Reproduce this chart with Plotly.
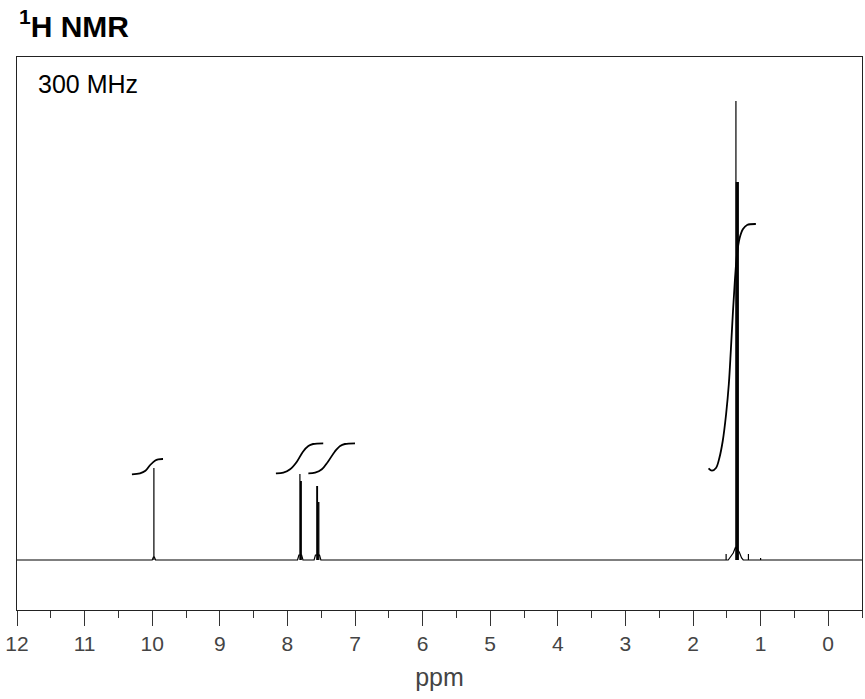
import plotly.graph_objects as go

# ---- data ----
title_text = "<b><sup>1</sup>H NMR</b>"
field_text = "300 MHz"
x_title = "ppm"

tick_vals = [12, 11, 10, 9, 8, 7, 6, 5, 4, 3, 2, 1, 0]

# baseline profile (ppm, intensity) including broad peak feet
base_ppm = [12.6, 10.00, 9.982, 9.968, 9.95,
            7.85, 7.83, 7.79, 7.77,
            7.605, 7.585, 7.525, 7.505,
            1.479, 1.405, 1.37, 1.316, 1.281, 1.257, -0.8]
base_int = [0, 0, 3, 3, 0,
            0, 5, 5, 0,
            0, 5, 5, 0,
            0, 7, 13, 8, 2, 0, 0]

# stick lines (ppm, intensity)
stick_ppm = [9.975,
             7.815, 7.805, 7.795,
             7.565, 7.555, 7.545, 7.535,
             1.51, 1.365, 1.36, 1.35, 1.34, 1.33, 1.18, 1.0]
stick_int = [92,
             86, 79, 79,
             74, 74, 58, 58,
             6, 459, 378, 378, 378, 378, 6, 2]

# integral curves (ppm, level)
int1_ppm = [10.30, 10.18, 10.10, 10.03, 9.96, 9.91, 9.84]
int1_lvl = [85.7, 86.7, 89.3, 95.0, 99.3, 100.7, 101.0]

int2_ppm = [8.17, 8.06, 7.96, 7.86, 7.77, 7.69, 7.62, 7.47]
int2_lvl = [86.7, 87.3, 90.7, 98.3, 108.3, 114.0, 116.0, 116.7]

int3_ppm = [7.69, 7.59, 7.49, 7.40, 7.30, 7.22, 7.15, 7.00]
int3_lvl = [86.7, 87.3, 90.7, 98.3, 108.3, 114.0, 116.0, 116.7]

int4_ppm = [1.77, 1.72, 1.66, 1.61, 1.56, 1.51, 1.47, 1.44, 1.41, 1.38, 1.35, 1.31, 1.26, 1.20, 1.07]
int4_lvl = [91.7, 89.3, 92.0, 102.0, 119.0, 146.0, 176.0, 210.0, 247.0, 280.0, 305.0, 322.0, 331.0, 335.0, 336.0]

# ---- figure ----
fig = go.Figure()

fig.add_trace(go.Scatter(x=base_ppm, y=base_int, mode="lines",
                         line=dict(color="#000000", width=1.2),
                         hoverinfo="skip", showlegend=False))

sx, sy = [], []
for p, h in zip(stick_ppm, stick_int):
    sx += [p, p, None]
    sy += [0, h, None]
fig.add_trace(go.Scatter(x=sx, y=sy, mode="lines",
                         line=dict(color="#000000", width=1.2),
                         hoverinfo="skip", showlegend=False))

for ip, il in [(int1_ppm, int1_lvl), (int2_ppm, int2_lvl),
               (int3_ppm, int3_lvl), (int4_ppm, int4_lvl)]:
    fig.add_trace(go.Scatter(x=ip, y=il, mode="lines",
                             line=dict(color="#000000", width=1.8, shape="spline", smoothing=1.0),
                             hoverinfo="skip", showlegend=False))

fig.update_layout(
    width=865, height=699,
    margin=dict(l=17, r=3, t=57, b=89),
    paper_bgcolor="white", plot_bgcolor="white",
    xaxis=dict(range=[12, -0.5], tickvals=tick_vals,
               ticktext=[str(v) for v in tick_vals],
               ticks="outside", ticklen=15, tickwidth=1.3, tickcolor="#333333",
               minor=dict(dtick=0.5, tick0=0, ticks="outside", ticklen=7,
                          tickwidth=1.3, tickcolor="#333333"),
               showline=True, mirror=True, linecolor="#222222", linewidth=1.3,
               showgrid=False, zeroline=False,
               tickfont=dict(family="Liberation Sans", size=21, color="#444444"),
               title=dict(text=x_title, standoff=14,
                          font=dict(family="Liberation Sans", size=25, color="#444444"))),
    yaxis=dict(range=[-50, 503], showticklabels=False, ticks="",
               showline=True, mirror=True, linecolor="#222222", linewidth=1.3,
               showgrid=False, zeroline=False, fixedrange=True),
    annotations=[
        dict(text=title_text, xref="paper", yref="paper", x=0, y=(610 - 24) / 553,
             xanchor="left", yanchor="middle", showarrow=False,
             font=dict(family="Liberation Sans", size=30, color="#000000")),
        dict(text=field_text, xref="paper", yref="paper", x=(37 - 17 - 1) / 845,
             y=(610 - 84) / 553, xanchor="left", yanchor="middle", showarrow=False,
             font=dict(family="Liberation Sans", size=25, color="#000000")),
    ],
)

fig.write_html("out.html")
